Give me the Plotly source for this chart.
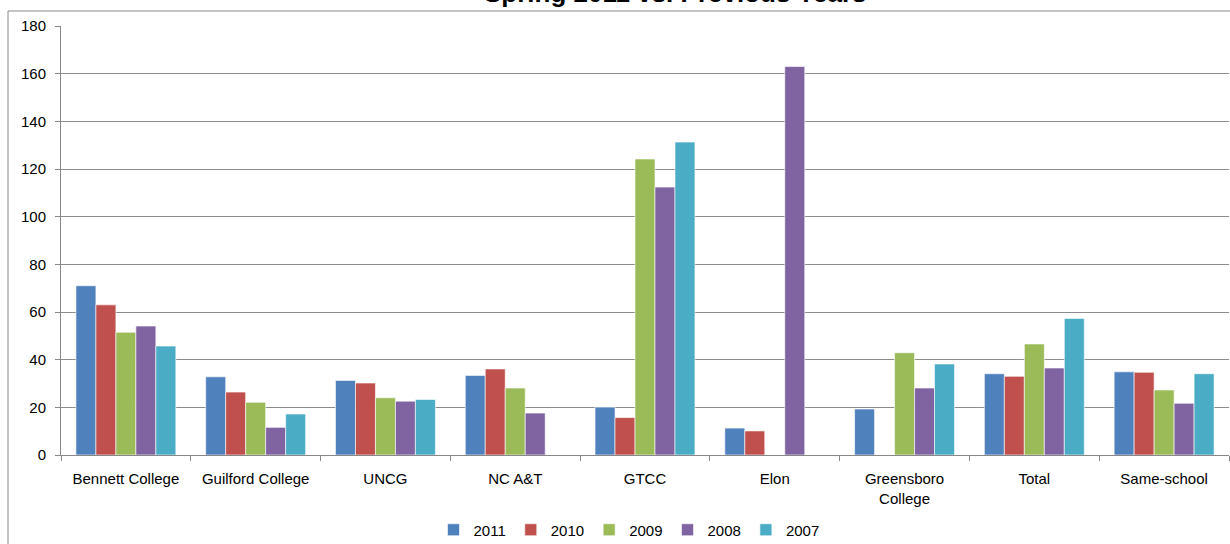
import plotly.graph_objects as go

categories = ["Bennett College", "Guilford College", "UNCG", "NC A&T", "GTCC", "Elon",
              "Greensboro<br>College", "Total", "Same-school"]
v2011 = [71, 32.8, 31.3, 33.4, 20.1, 11.3, 19.3, 34.1, 34.9]
v2010 = [63, 26.4, 30.2, 36.1, 15.7, 10.1, None, 33.0, 34.7]
v2009 = [51.5, 22.1, 24.0, 28.1, 124.2, None, 42.9, 46.6, 27.3]
v2008 = [54.1, 11.6, 22.6, 17.6, 112.4, 163.0, 28.1, 36.5, 21.7]
v2007 = [45.7, 17.2, 23.3, None, 131.3, None, 38.2, 57.3, 34.1]
series = [("2011", v2011, "#4F81BD"), ("2010", v2010, "#C0504D"), ("2009", v2009, "#9BBB59"),
          ("2008", v2008, "#8064A2"), ("2007", v2007, "#4BACC6")]
title = "Spring 2011 vs. Previous Years"

FONT = "Arial, Liberation Sans, sans-serif"
fig = go.Figure()
for name, vals, col in series:
    fig.add_trace(go.Bar(x=categories, y=vals, name=name, marker_color=col,
                         marker_line=dict(color="rgba(255,255,255,0.6)", width=1)))

W, H = 1230, 544
ml, mr, mt, mb = 61, 1, 26, 89
pw, ph = W - ml - mr, H - mt - mb

fig.update_layout(
    width=W, height=H, autosize=False,
    margin=dict(l=ml, r=mr, t=mt, b=mb),
    paper_bgcolor="white", plot_bgcolor="white",
    barmode="group", bargap=0.23, bargroupgap=0,
    font=dict(family=FONT, size=15, color="#000"),
    showlegend=True,
    legend=dict(orientation="h", x=(629 - ml) / pw, xanchor="center",
                yref="container", y=1 - 530 / H, yanchor="middle",
                font=dict(size=15), traceorder="normal", itemwidth=30),
    xaxis=dict(showline=True, linecolor="#888", linewidth=1, ticks="outside",
               tickson="boundaries", ticklen=5, tickcolor="#888",
               ticklabelstandoff=10,
               tickfont=dict(size=15, color="#000"), showgrid=False),
    yaxis=dict(range=[0, 180], dtick=20, showline=True, linecolor="#888",
               linewidth=1, ticks="outside", ticklen=5, tickcolor="#888",
               ticklabelstandoff=6,
               gridcolor="#8c8c8c", gridwidth=1, zeroline=False,
               tickfont=dict(size=15, color="#000")),
    annotations=[dict(text="<b>" + title + "</b>", xref="paper", yref="paper",
                      x=(675 - ml) / pw, y=1 + (mt + 7) / ph, xanchor="center",
                      yanchor="middle", showarrow=False,
                      font=dict(size=26, family=FONT, color="#000"))],
    shapes=[dict(type="rect", xref="paper", yref="paper",
                 x0=(8 - ml) / pw, x1=(W + 10 - ml) / pw,
                 y0=-(H + 10 - mt - ph) / ph, y1=1 + (mt - 11) / ph,
                 line=dict(color="#888", width=1), fillcolor="rgba(0,0,0,0)",
                 layer="below")],
)
fig.write_html("out.html")
